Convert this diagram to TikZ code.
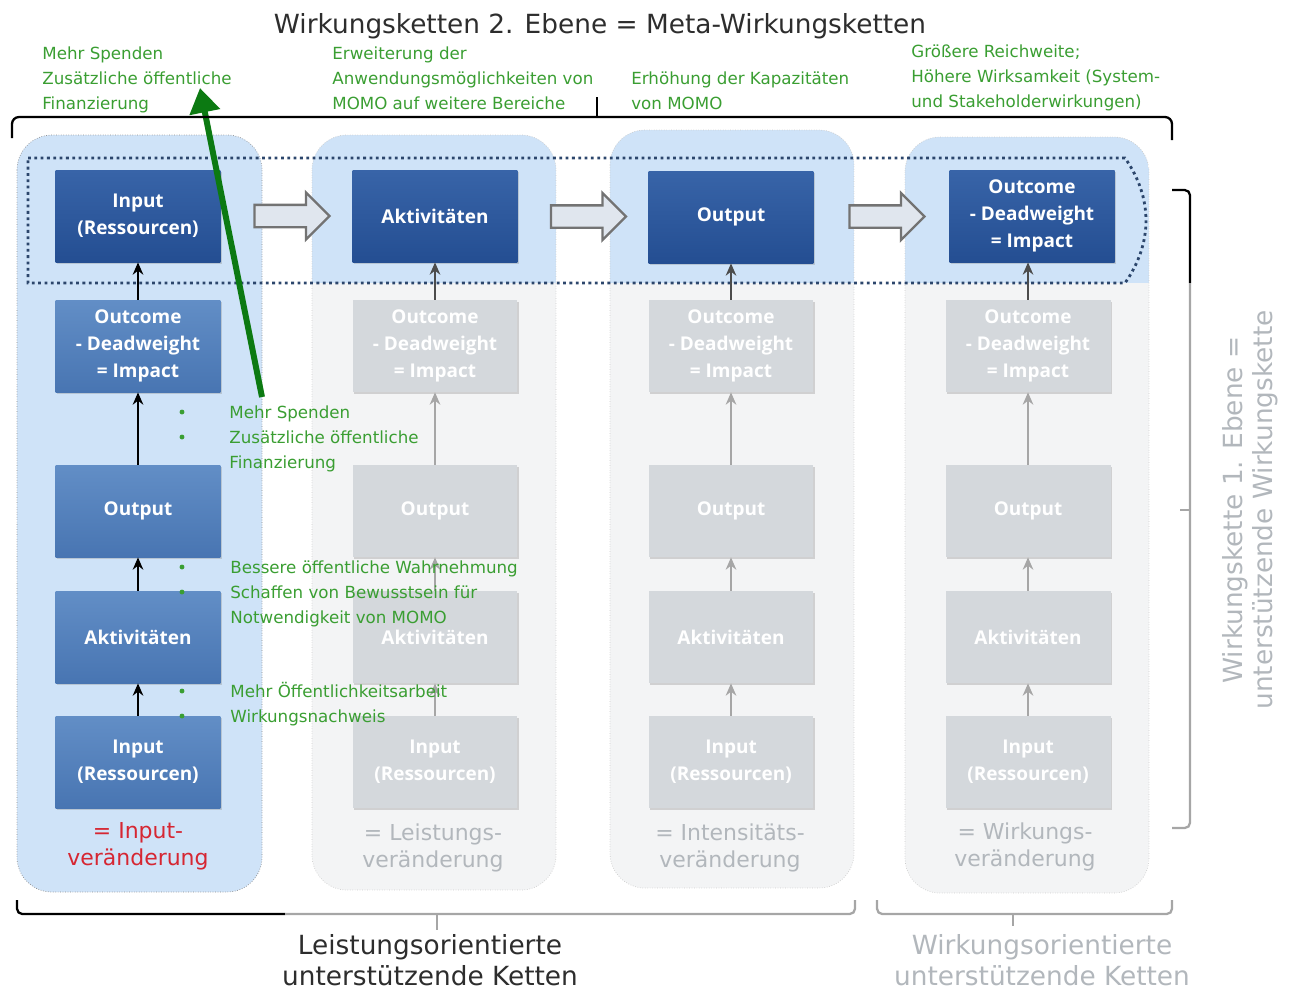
\documentclass[tikz,border=0pt]{standalone}
\usepackage{fontspec}
\setmainfont{DejaVu Sans}
\newfontfamily\boxfont{Open Sans}
\usetikzlibrary{shapes.arrows,arrows.meta,shadows,calc}
\definecolor{boxdark}{RGB}{36,78,146}
\definecolor{boxdarktop}{RGB}{56,100,168}
\definecolor{boxmid}{RGB}{72,117,178}
\definecolor{boxmidtop}{RGB}{98,142,198}
\definecolor{boxgrey}{RGB}{212,216,220}
\definecolor{panelblue}{RGB}{207,227,248}
\definecolor{panelgrey}{RGB}{243,244,245}
\definecolor{bandcol}{RGB}{44,70,108}
\definecolor{greentxt}{RGB}{58,158,50}
\definecolor{greenarr}{RGB}{12,122,18}
\definecolor{redtxt}{RGB}{214,38,50}
\definecolor{greytxt}{RGB}{178,183,188}
\definecolor{titletxt}{RGB}{45,45,45}
\definecolor{fatfill}{RGB}{224,230,238}
\begin{document}
\begin{tikzpicture}[x=0.02cm,y=-0.02cm,
    box/.style={minimum width=3.3cm,minimum height=1.84cm,inner sep=1pt,align=center,
      text=white,font=\boxfont\bfseries\fontsize{10.8}{15.3}\selectfont,
      drop shadow={shadow xshift=0.8pt,shadow yshift=-1.2pt,opacity=0.3}},
    topbox/.style={box,top color=boxdarktop,bottom color=boxdark},
    midbox/.style={box,top color=boxmidtop,bottom color=boxmid},
    greybox/.style={box,fill=boxgrey},
    up/.style={-{Stealth[length=7pt,width=6pt]},line width=1.2pt},
    fatarrow/.style={single arrow,draw=black!55,line width=1.3pt,fill=fatfill,
      minimum height=1.5cm,minimum width=0.9cm,inner sep=0.2cm,
      single arrow head extend=0.25cm},
    greennote/.style={text=greentxt,align=left,inner sep=0pt,font=\fontsize{9.5}{14.2}\selectfont},
    chglabel/.style={align=center,font=\fontsize{12.5}{15.3}\selectfont},
    biglabel/.style={align=center,font=\fontsize{15}{18}\selectfont}]
  \useasboundingbox (0,0) rectangle (1293,992);
  % panels
  \draw[fill=panelblue,draw=black!45,densely dotted,rounded corners=0.7cm] (17,135) rectangle (262,892);
  \foreach \xa/\ya/\yb in {312/135/890,610/130/888,905/137/893}{
    \begin{scope}
      \clip[rounded corners=0.7cm] (\xa,\ya) rectangle (\xa+244,\yb);
      \fill[panelgrey] (\xa,\ya) rectangle (\xa+244,\yb);
      \fill[panelblue] (\xa,\ya) rectangle (\xa+244,283);
    \end{scope}
    \draw[draw=black!20,densely dotted,rounded corners=0.7cm] (\xa,\ya) rectangle (\xa+244,\yb);
  }
  % meta band
  \draw[bandcol,line width=1.6pt,dash pattern=on 1.6pt off 2pt]
    (28,158) -- (1125,158) to[bend left=35] (1125,283) -- (28,283) -- cycle;
  % top row
  \node[topbox] (in0) at (138,216) {Input\\(Ressourcen)};
  \node[topbox] (akt0) at (435,216) {Aktivitäten};
  \node[topbox] (out0) at (731,217) {Output};
  \node[topbox] (imp0) at (1032,216) {Outcome\\- Deadweight\\= Impact};
  \node[fatarrow] at ($(in0.east)!0.5!(akt0.west)$) {};
  \node[fatarrow] at ($(akt0.east)!0.5!(out0.west)$) {};
  \node[fatarrow] at ($(out0.east)!0.5!(imp0.west)$) {};
  % column 1
  \node[midbox] (imp1) at (138,346) {Outcome\\- Deadweight\\= Impact};
  \node[midbox] (out1) at (138,511) {Output};
  \node[midbox] (akt1) at (138,637) {Aktivitäten};
  \node[midbox] (in1) at (138,762) {Input\\(Ressourcen)};
  \begin{scope}[up,black]
    \draw (imp1) -- (in0);
    \draw (out1) -- (imp1);
    \draw (akt1) -- (out1);
    \draw (in1) -- (akt1);
  \end{scope}
  % columns 2-4
  \foreach \i/\x/\top in {2/435/akt0,3/731/out0,4/1028/imp0}{
    \node[greybox] (imp\i) at (\x,346) {Outcome\\- Deadweight\\= Impact};
    \node[greybox] (out\i) at (\x,511) {Output};
    \node[greybox] (akt\i) at (\x,637) {Aktivitäten};
    \node[greybox] (in\i) at (\x,762) {Input\\(Ressourcen)};
    \draw[up,black!70] (imp\i) -- (imp\i |- \top.south);
    \begin{scope}[up,black!35]
      \draw (out\i) -- (imp\i);
      \draw (akt\i) -- (out\i);
      \draw (in\i) -- (akt\i);
    \end{scope}
  }
  % change labels
  \node[chglabel,text=redtxt] (lab1) at (138,846) {= Input-\\veränderung};
  \node[chglabel,text=greytxt] (lab2) at (433,848) {= Leistungs-\\veränderung};
  \node[chglabel,text=greytxt] (lab3) at (730,848) {= Intensitäts-\\veränderung};
  \node[chglabel,text=greytxt] (lab4) at (1025,847) {= Wirkungs-\\veränderung};
  % title and top notes
  \node[biglabel,text=titletxt] (title) at (600,26) {Wirkungsketten 2. Ebene = Meta-Wirkungsketten};
  \node[greennote,anchor=base west] (note1) at (42,109) {Mehr Spenden\\Zusätzliche öffentliche\\Finanzierung};
  \node[greennote,anchor=base west] (note2) at (332,109) {Erweiterung der\\Anwendungsmöglichkeiten von\\MOMO auf weitere Bereiche};
  \node[greennote,anchor=base west] (note3) at (631,109) {Erhöhung der Kapazitäten\\von MOMO};
  \node[greennote,anchor=base west] (note4) at (911,107) {Größere Reichweite;\\Höhere Wirksamkeit (System-\\und Stakeholderwirkungen)};
  % notes in column 1
  \node[greennote,anchor=base west] (bul1) at (229,468) {Mehr Spenden\\Zusätzliche öffentliche\\Finanzierung};
  \node[greennote,anchor=base west] (bul2) at (230,623) {Bessere öffentliche Wahrnehmung\\Schaffen von Bewusstsein für\\Notwendigkeit von MOMO};
  \node[greennote,anchor=base west] (bul3) at (230,722) {Mehr Öffentlichkeitsarbeit\\Wirkungsnachweis};
  \foreach \y in {412,437,567,592,691,716}
    \fill[greentxt] (182,\y) circle (1.4pt);
  % green arrow
  \coordinate (gstart) at (262,397);
  \coordinate (gend) at (200,88);
  \draw[greenarr,line width=3.4pt,-{Triangle[length=14pt,width=17pt]}] (gstart) -- (gend);
  % brackets
  \draw[line width=1.3pt,rounded corners=4pt] (12,138) -- (12,117) -- (1172,117) -- (1172,140);
  \draw[line width=1.3pt] (597,117) -- (597,97);
  \draw[line width=1.3pt,rounded corners=3pt] (1172,190) -- (1190,190) -- (1190,283);
  \draw[line width=1.3pt,black!35,rounded corners=3pt] (1190,283) -- (1190,828) -- (1172,828);
  \draw[line width=1.3pt,black!35] (1190,510) -- (1180,510);
  \draw[line width=1.3pt,rounded corners=3pt] (17,900) -- (17,914) -- (285,914);
  \draw[line width=1.3pt,black!35,rounded corners=3pt] (285,914) -- (855,914) -- (855,900);
  \draw[line width=1.3pt,black!35] (437,914) -- (437,930);
  \draw[line width=1.3pt,black!35,rounded corners=3pt] (877,900) -- (877,914) -- (1172,914) -- (1172,900);
  \draw[line width=1.3pt,black!35] (1013,914) -- (1013,926);
  % bottom and side labels
  \node[biglabel,text=titletxt] (lchain) at (430,960) {Leistungsorientierte\\unterstützende Ketten};
  \node[biglabel,text=greytxt] (wchain) at (1042,960) {Wirkungsorientierte\\unterstützende Ketten};
  \node[biglabel,text=greytxt,rotate=90,font=\fontsize{15}{17}\selectfont] (side) at (1250,510) {Wirkungskette 1. Ebene =\\unterstützende Wirkungskette};
\end{tikzpicture}
\end{document}
